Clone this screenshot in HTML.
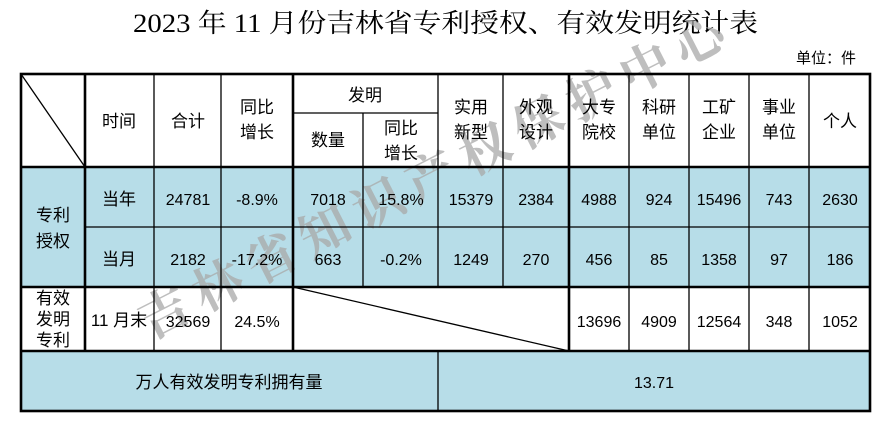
<!DOCTYPE html>
<html><head><meta charset="utf-8"><style>
html,body{margin:0;padding:0;background:#fff;}
svg{display:block;}
text{font-family:"Liberation Sans","Noto Sans CJK SC",sans-serif;fill:#000;}
.t{font-size:17px;}
.n{font-size:16px;}
</style></head><body>
<svg width="896" height="426" viewBox="0 0 896 426">
<text x="133" y="32" textLength="625" lengthAdjust="spacingAndGlyphs" style="font-family:'Liberation Serif','Noto Serif CJK SC',serif;font-size:26px">2023 年 11 月份吉林省专利授权、有效发明统计表</text>
<text x="796" y="63" style="font-size:15px">单位：件</text>
<g>
<rect x="21" y="167" width="849" height="120" fill="#b7dde8"/>
<rect x="21" y="351" width="849" height="60" fill="#b7dde8"/>
</g>
<g>
<text x="0" y="0" transform="translate(150,340) rotate(-27)" style="font-family:'Noto Serif CJK SC',serif;font-weight:bold;font-size:50px;fill:#a8a8a8;fill-opacity:0.75" textLength="650" lengthAdjust="spacing">吉林省知识产权保护中心</text>
</g>
<g stroke="#000" stroke-width="1.3" fill="none">
<line x1="21" y1="74" x2="85" y2="167"/>
<line x1="293" y1="287" x2="569" y2="351"/>
<line x1="154" y1="74" x2="154" y2="351"/>
<line x1="221" y1="74" x2="221" y2="351"/>
<line x1="363" y1="113" x2="363" y2="287"/>
<line x1="438" y1="74" x2="438" y2="287"/>
<line x1="438" y1="351" x2="438" y2="411"/>
<line x1="503" y1="74" x2="503" y2="287"/>
<line x1="629" y1="74" x2="629" y2="351"/>
<line x1="689" y1="74" x2="689" y2="351"/>
<line x1="749" y1="74" x2="749" y2="351"/>
<line x1="809" y1="74" x2="809" y2="351"/>
<line x1="293" y1="113" x2="438" y2="113"/>
<line x1="85" y1="227" x2="870" y2="227"/>
</g>
<g stroke="#000" stroke-width="2.6" fill="none">
<rect x="21" y="74" width="849" height="337"/>
<line x1="85" y1="74" x2="85" y2="351"/>
<line x1="293" y1="74" x2="293" y2="351"/>
<line x1="569" y1="74" x2="569" y2="351"/>
<line x1="21" y1="167" x2="870" y2="167"/>
<line x1="21" y1="287" x2="870" y2="287"/>
<line x1="21" y1="351" x2="870" y2="351"/>
</g>
<g class="t" text-anchor="middle">
<text x="119" y="127">时间</text>
<text x="188" y="127">合计</text>
<text x="257" y="113">同比</text><text x="257" y="138">增长</text>
<text x="365" y="101">发明</text>
<text x="328" y="146">数量</text>
<text x="401" y="134">同比</text><text x="401" y="159">增长</text>
<text x="471" y="113">实用</text><text x="471" y="138">新型</text>
<text x="536" y="113">外观</text><text x="536" y="138">设计</text>
<text x="599" y="113">大专</text><text x="599" y="138">院校</text>
<text x="659" y="113">科研</text><text x="659" y="138">单位</text>
<text x="719" y="113">工矿</text><text x="719" y="138">企业</text>
<text x="779" y="113">事业</text><text x="779" y="138">单位</text>
<text x="840" y="127">个人</text>
<text x="53" y="221">专利</text><text x="53" y="247">授权</text>
<text x="119" y="205">当年</text>
<text x="119" y="265">当月</text>
<text x="53" y="304">有效</text><text x="53" y="325">发明</text><text x="53" y="346">专利</text>
<text x="119" y="326">11 月末</text>
<text x="229" y="388">万人有效发明专利拥有量</text>
</g>
<g class="n" text-anchor="middle">
<text x="188" y="205">24781</text><text x="257" y="205">-8.9%</text><text x="328" y="205">7018</text><text x="401" y="205">15.8%</text><text x="471" y="205">15379</text><text x="536" y="205">2384</text><text x="599" y="205">4988</text><text x="659" y="205">924</text><text x="719" y="205">15496</text><text x="779" y="205">743</text><text x="840" y="205">2630</text>
<text x="188" y="265">2182</text><text x="257" y="265">-17.2%</text><text x="328" y="265">663</text><text x="401" y="265">-0.2%</text><text x="471" y="265">1249</text><text x="536" y="265">270</text><text x="599" y="265">456</text><text x="659" y="265">85</text><text x="719" y="265">1358</text><text x="779" y="265">97</text><text x="840" y="265">186</text>
<text x="188" y="327">32569</text><text x="257" y="327">24.5%</text><text x="599" y="327">13696</text><text x="659" y="327">4909</text><text x="719" y="327">12564</text><text x="779" y="327">348</text><text x="840" y="327">1052</text>
<text x="654" y="388">13.71</text>
</g>
</svg>
</body></html>
